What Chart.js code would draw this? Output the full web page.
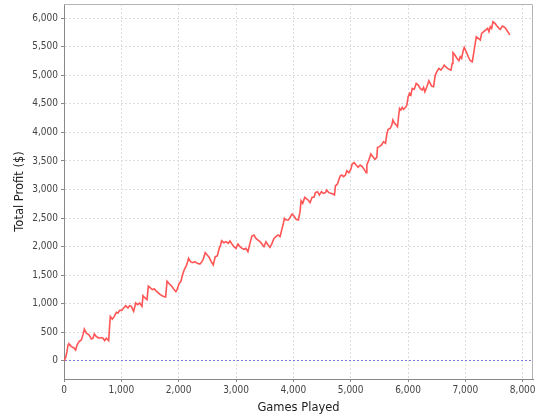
<!DOCTYPE html>
<html>
<head>
<meta charset="utf-8">
<script src="https://cdn.jsdelivr.net/npm/chart.js@4/dist/chart.umd.min.js"></script>
<style>
  body { margin: 0; background: #fff; }
</style>
</head>
<body>
<canvas id="myChart" width="540" height="420"></canvas>
<script>
// games played (x) and running profit (y)
const games = [0,29,52,70,87,128,169,203,227,262,302,331,355,390,436,477,506,529,564,610,651,680,709,738,779,797,808,843,878,913,942,971,1006,1041,1076,1116,1145,1174,1215,1250,1285,1320,1360,1378,1413,1448,1471,1506,1541,1576,1610,1645,1680,1727,1773,1797,1831,
  1875,1916,1951,1974,2009,2038,2067,2091,2126,2149,2172,2207,2242,2283,2323,2370,2405,2428,2463,2498,2533,2568,2603,2638,2673,2708,2731,2749,2789,2824,2865,2894,2929,2964,2999,3034,3069,3104,3139,3173,3208,3243,3278,3313,3348,3383,3418,3453,3488,3523,3558,3593,3628,3662,3697,3732,
  3768,3797,3826,3844,3873,3914,3943,3978,4012,4047,4088,4117,4135,4164,4199,4222,4257,4292,4327,4362,4385,4420,4455,4490,4525,4560,4583,4618,4653,4688,4717,4734,4769,4793,4816,4845,4874,4909,4932,4967,5002,5026,5060,5095,5130,5165,5200,5235,5270,5282,5317,5352,5387,5422,5456,5468,5503,5538,5573,5608,5631,5654,
  5689,5718,5736,5759,5794,5817,5835,5852,5875,5899,5922,5957,5980,6003,6027,6050,6073,6108,6143,6178,6213,6248,6271,6295,6329,6364,6388,6411,6446,6475,6504,6539,6574,6609,6632,6655,6690,6725,6749,6772,6784,6818,6853,6888,6912,6935,6958,6981,7016,7051,7086,7121,7145,7168,7191,7226,7261,7284,7319,7354,7389,7412,7435,7459,7482,7517,7552,7587,7610,7645,7668,7703,7727,7761,7773];

const profit = [0,59,159,276,294,247,229,188,276,335,365,453,553,482,453,382,394,470,424,394,406,394,353,394,353,629,776,729,776,847,835,882,882,924,965,924,965,953,865,1012,982,1012,953,1141,1100,1071,1306,1276,1247,1259,1218,1188,1159,1129,1118,1394,1353,
  1309,1251,1210,1251,1356,1385,1502,1578,1648,1706,1794,1736,1718,1736,1706,1695,1736,1777,1893,1852,1811,1736,1677,1823,1835,1969,2028,2103,2068,2086,2057,2098,2045,1998,1969,2045,1998,1969,1952,1969,1911,2057,2185,2203,2144,2115,2086,2045,1998,2086,2028,1987,2057,2144,2173,2203,
  2174,2291,2407,2495,2466,2466,2513,2571,2536,2478,2466,2612,2805,2758,2863,2846,2816,2770,2863,2863,2945,2962,2904,2962,2933,2945,2992,2945,2933,2921,2904,3062,3097,3167,3237,3254,3225,3254,3330,3295,3353,3447,3470,3429,3389,3429,3400,3353,3295,3429,3517,3622,3575,3529,3564,3739,3751,3780,3838,3809,3972,4054,
  4071,4129,4217,4170,4129,4100,4275,4421,4392,4439,4404,4439,4480,4626,4684,4655,4772,4754,4859,4830,4772,4743,4789,4713,4801,4906,4859,4813,4801,5005,5064,5122,5093,5140,5180,5151,5122,5104,5093,5210,5396,5356,5297,5256,5326,5297,5414,5490,5414,5326,5256,5239,5385,5531,5677,5648,5618,5735,5765,5794,5823,5765,5852,5823,5940,5910,5864,5823,5805,5864,5852,5823,5782,5735,5706];

const xTicks = [0, 1000, 2000, 3000, 4000, 5000, 6000, 7000, 8000];
const yTicks = [0, 500, 1000, 1500, 2000, 2500, 3000, 3500, 4000, 4500, 5000, 5500, 6000];

const points = games.map((g, i) => ({ x: g, y: profit[i] }));

// box round the plot like the original
const frame = {
  id: 'frame',
  afterDraw(chart) {
    const a = chart.chartArea;
    const c = chart.ctx;
    c.save();
    c.strokeStyle = '#b4b4b4';
    c.lineWidth = 1;
    c.beginPath();
    c.moveTo(a.left, a.top + 0.5);
    c.lineTo(a.right - 0.5, a.top + 0.5);
    c.lineTo(a.right - 0.5, a.bottom);
    c.stroke();
    c.restore();
  }
};

const fmt = v => v.toLocaleString('en-US');
const tickFont = { family: 'DejaVu Sans Condensed', size: 10 };
const titleFont = { family: 'DejaVu Sans', size: 11.5 };

new Chart(document.getElementById('myChart'), {
  type: 'line',
  data: {
    datasets: [{
      data: points,
      borderColor: '#ff5555',
      borderWidth: 1.6,
      pointRadius: 0,
      tension: 0,
      fill: false
    }]
  },
  options: {
    responsive: false,
    animation: false,
    layout: { padding: { left: 0, right: 7, top: 4, bottom: 0 } },
    plugins: { legend: { display: false }, tooltip: { enabled: false } },
    scales: {
      x: {
        type: 'linear',
        min: 0,
        max: 8180,
        afterBuildTicks: s => { s.ticks = xTicks.map(v => ({ value: v })); },
        afterFit: s => { s.height = 41; s.paddingLeft = 0; s.paddingRight = 0; },
        ticks: { padding: 2, color: '#444', font: tickFont, callback: v => fmt(v), maxRotation: 0, autoSkip: false },
        grid: { color: '#dcdcdc', lineWidth: 1, tickLength: 3, tickColor: '#888', tickBorderDash: [] },
        border: { color: '#888', width: 1, dash: [2, 2] },
        title: { display: true, text: 'Games Played', color: '#222', font: titleFont, padding: { top: 0, bottom: 5 } }
      },
      y: {
        type: 'linear',
        min: -320,
        max: 6250,
        afterBuildTicks: s => { s.ticks = yTicks.map(v => ({ value: v })); },
        afterFit: s => { s.width = 64; s.paddingTop = 0; s.paddingBottom = 0; },
        ticks: { padding: 3, color: '#444', font: tickFont, callback: v => fmt(v), autoSkip: false },
        grid: {
          color: c => (c.tick && c.tick.value === 0) ? '#7a7ad8' : '#dcdcdc',
          lineWidth: 1, tickLength: 3, tickColor: '#888', tickBorderDash: []
        },
        border: { color: '#888', width: 1, dash: [2, 2] },
        title: { display: true, text: 'Total Profit ($)', color: '#222', font: titleFont, padding: { top: 13, bottom: 0 } }
      }
    }
  },
  plugins: [frame]
});
</script>
</body>
</html>
